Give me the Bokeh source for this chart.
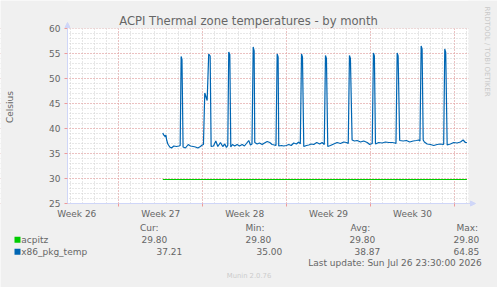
import math
from bokeh.plotting import figure
from bokeh.models import (Range1d, FixedTicker, LinearAxis, Grid, BoxAnnotation,
                          Arrow, NormalHead)
from bokeh.core.properties import value
from bokeh.embed import file_html
from bokeh.resources import INLINE

# time axis: days since Sunday 2026-06-21 00:00
pkg_t = [10.67, 10.74, 10.81, 10.87, 10.93, 11.00, 11.09, 11.25, 11.39, 11.59, 11.81, 12.02, 12.12, 12.20, 12.27, 12.36,
         12.56, 12.79, 12.98, 13.20, 13.40, 13.59, 13.81, 13.95, 14.06, 14.17, 14.25, 14.37, 14.50, 14.62, 14.70,
         14.90, 15.09, 15.26, 15.48, 15.67, 15.84, 15.98, 16.09, 16.17, 16.26, 16.34,
         16.48, 16.67, 16.87, 17.07, 17.29, 17.48, 17.71, 17.84, 17.98, 18.11, 18.21, 18.29, 18.34,
         18.54, 18.73, 18.96, 19.15, 19.38, 19.59, 19.79, 19.98, 20.11, 20.21, 20.29, 20.34,
         20.57, 20.76, 20.96, 21.18, 21.38, 21.59, 21.82, 22.01, 22.14, 22.24, 22.32, 22.43,
         22.65, 22.85, 23.05, 23.26, 23.51, 23.76, 23.96, 24.14, 24.24, 24.32, 24.43,
         24.65, 24.93, 25.21, 25.49, 25.76, 25.99, 26.14, 26.24, 26.32, 26.46,
         26.66, 26.88, 27.16, 27.43, 27.72, 27.93, 28.14, 28.24, 28.32, 28.41,
         28.68, 28.97, 29.24, 29.52, 29.80, 30.05, 30.12, 30.22, 30.30, 30.43,
         30.72, 30.99, 31.27, 31.55, 31.83, 32.02, 32.12, 32.22, 32.30, 32.39,
         32.49, 32.72, 33.00, 33.27, 33.55, 33.83, 34.05, 34.10, 34.19, 34.27, 34.39,
         34.66, 34.94, 35.22, 35.50, 35.72, 35.91, 36.04]
pkg_v = [39.1, 38.7, 38.6, 38.3, 38.7, 37.6, 36.9, 36.3, 36.1, 36.5, 36.4, 36.5, 36.6, 54.4, 53.8, 36.3,
         36.1, 36.8, 36.5, 36.4, 36.3, 36.1, 36.4, 36.7, 36.8, 47.1, 46.5, 45.6, 54.9, 54.5, 36.4,
         36.5, 37.5, 36.4, 37.2, 36.4, 36.9, 36.2, 36.6, 55.3, 54.8, 36.3,
         36.8, 36.5, 36.8, 36.5, 36.8, 36.5, 37.2, 37.6, 36.7, 36.9, 56.3, 55.5, 37.2,
         36.9, 37.1, 36.8, 37.1, 37.4, 37.2, 36.8, 36.7, 36.6, 54.9, 54.3, 36.5,
         36.6, 36.5, 36.6, 36.8, 36.6, 37.1, 36.9, 37.3, 36.9, 54.9, 54.3, 36.4,
         36.6, 36.7, 36.9, 36.8, 37.2, 36.9, 37.2, 36.8, 54.6, 54.0, 36.4,
         36.6, 36.9, 37.2, 37.0, 37.3, 37.2, 37.0, 54.6, 54.0, 37.7,
         37.5, 37.6, 37.3, 37.5, 37.2, 36.8, 37.0, 55.1, 54.5, 36.9,
         37.2, 37.1, 37.3, 37.2, 37.2, 37.1, 37.0, 55.1, 54.5, 37.6,
         37.5, 37.6, 37.3, 37.5, 37.6, 37.7, 37.5, 56.5, 55.9, 37.7,
         37.3, 36.9, 36.8, 36.6, 36.8, 36.9, 36.8, 36.9, 55.9, 55.2, 36.7,
         36.9, 37.2, 37.1, 37.3, 37.7, 37.2, 37.2]
acpitz_t = [10.67, 36.04]
acpitz_v = [29.80, 29.80]

week_bounds = [7, 14, 21, 28, 35]
week_mid = [3.5, 10.5, 17.5, 24.5, 31.5]
week_labels = ["Week 26", "Week 27", "Week 28", "Week 29", "Week 30"]
day_ticks = list(range(3, 37))
y_major = [25, 30, 35, 40, 45, 50, 55, 60]
y_minor = list(range(25, 61))
t_start, t_end = 2.72, 36.17
y_lo, y_hi = 25, 60

title_text = "ACPI Thermal zone temperatures - by month"
y_label = "Celsius"
watermark = "RRDTOOL / TOBI OETIKER"
series_names = ["acpitz", "x86_pkg_temp"]
series_colors = ["#00CC00", "#0066B3"]
stat_headers = ["Cur:", "Min:", "Avg:", "Max:"]
cur_vals = ["29.80", "37.21"]
min_vals = ["29.80", "35.00"]
avg_vals = ["29.80", "38.87"]
max_vals = ["29.80", "64.85"]
last_update = "Last update: Sun Jul 26 23:30:00 2026"
version_text = "Munin 2.0.76"

assert len(pkg_t) == len(pkg_v)

FONT = "DejaVu Sans"
TXT = "#666666"
AXIS = "#CFD6F8"
MGRID = "#EE9A9A"
GRID = "#CFCFCF"
BG = "#F0F0F0"

W, H = 497, 287
FL, FR, FT, FB = 67, 468, 28, 203      # data area in page pixels
xs = (FR - FL) / (t_end - t_start)     # px per day
ys = (FB - FT) / (y_hi - y_lo)         # px per degree

p = figure(width=W, height=H,
           x_range=Range1d(t_start - FL / xs, t_end + (W - FR) / xs),
           y_range=Range1d(y_lo - (H - FB) / ys, y_hi + FT / ys),
           output_backend="svg", toolbar_location=None,
           x_axis_type=None, y_axis_type=None,
           min_border=0, min_border_left=0, min_border_right=0, min_border_top=0, min_border_bottom=0,
           background_fill_color="white", border_fill_color=BG, outline_line_color=None)
p.extra_x_ranges = {"px": Range1d(0, W)}
p.extra_y_ranges = {"px": Range1d(H, 0)}

# grids
p.add_layout(Grid(dimension=0, ticker=FixedTicker(ticks=week_bounds, minor_ticks=day_ticks),
                  grid_line_color=MGRID, grid_line_dash="1 2",
                  minor_grid_line_color=GRID, minor_grid_line_dash="1 2"))
p.add_layout(Grid(dimension=1, ticker=FixedTicker(ticks=y_major, minor_ticks=y_minor),
                  grid_line_color=MGRID, grid_line_dash="1 2",
                  minor_grid_line_color=GRID, minor_grid_line_dash="1 2"))
# grey page outside the data area (covers grid ends)
band = dict(fill_color=BG, fill_alpha=1, line_color=None, level="underlay")
p.add_layout(BoxAnnotation(bottom=y_hi, **band))
p.add_layout(BoxAnnotation(top=y_lo, **band))
p.add_layout(BoxAnnotation(right=t_start, **band))
p.add_layout(BoxAnnotation(left=t_end, **band))

yaxis = LinearAxis(fixed_location=t_start, bounds=(y_lo, y_hi),
                   ticker=FixedTicker(ticks=y_major), axis_line_color=AXIS,
                   major_tick_line_color=MGRID, major_tick_out=3, major_tick_in=0,
                   minor_tick_line_color=None, major_label_text_font=FONT,
                   major_label_text_font_size="9px", major_label_text_color=TXT,
                   major_label_standoff=4)
p.add_layout(yaxis, "left")

xaxis = LinearAxis(fixed_location=y_lo, bounds=(t_start, t_end),
                   ticker=FixedTicker(ticks=week_mid, minor_ticks=week_bounds),
                   axis_line_color=AXIS,
                   major_tick_line_color=None, major_tick_out=0, major_tick_in=0,
                   minor_tick_line_color=MGRID, minor_tick_out=3, minor_tick_in=0,
                   major_label_overrides={m: l for m, l in zip(week_mid, week_labels)},
                   major_label_text_font=FONT, major_label_text_font_size="9px",
                   major_label_text_color=TXT, major_label_standoff=2)
p.add_layout(xaxis, "below")

head = NormalHead(size=5, fill_color=AXIS, line_color=AXIS)
p.add_layout(Arrow(end=head, x_start=t_start, y_start=y_hi, x_end=t_start, y_end=y_hi + 6 / ys,
                   line_color=AXIS))
p.add_layout(Arrow(end=NormalHead(size=5, fill_color=AXIS, line_color=AXIS),
                   x_start=t_end, y_start=y_lo, x_end=t_end + 7 / xs, y_end=y_lo, line_color=AXIS))

# data
p.line(acpitz_t, acpitz_v, line_color=series_colors[0], line_width=1)
p.line(pkg_t, pkg_v, line_color=series_colors[1], line_width=1.2)

# texts (page pixel coordinates)
px = dict(x_range_name="px", y_range_name="px")
tk = dict(text_font=value(FONT), text_font_size="9px", text_color=TXT,
          text_baseline="middle", text_align="left", **px)

p.text(x=[248], y=[20.5], text=[title_text], text_font=value(FONT), text_font_size="11.6px",
       text_color=TXT, text_baseline="middle", text_align="center", **px)
p.text(x=[9.5], y=[106.5], text=[y_label], angle=math.pi / 2, text_font=value(FONT),
       text_font_size="9px", text_color=TXT, text_baseline="middle", text_align="center", **px)
p.text(x=[486.7], y=[51], text=[watermark], angle=-math.pi / 2, text_font=value(FONT),
       text_font_size="7px", text_color="#C8C8C8", text_baseline="middle", text_align="center", **px)

p.text(x=[139.5, 245, 350, 456], y=[227.5] * 4, text=stat_headers, **tk)
rows_y = [239.3, 251.3]
p.rect(x=[17, 17], y=rows_y, width=6, height=6, fill_color=series_colors, line_color=None, **px)
p.text(x=[20.7, 20.7], y=rows_y, text=series_names, **tk)
p.text(x=[141, 156], y=rows_y, text=cur_vals, **tk)
p.text(x=[245, 256], y=rows_y, text=min_vals, **tk)
p.text(x=[349, 354], y=rows_y, text=avg_vals, **tk)
p.text(x=[453, 453], y=rows_y, text=max_vals, **tk)
p.text(x=[307.7], y=[262.7], text=[last_update], **tk)
p.text(x=[248.5], y=[275], text=[version_text], text_font=value(FONT), text_font_size="6.8px",
       text_color="#CCCCCC", text_baseline="middle", text_align="center", **px)

open("out.html", "w").write(file_html(p, INLINE))
